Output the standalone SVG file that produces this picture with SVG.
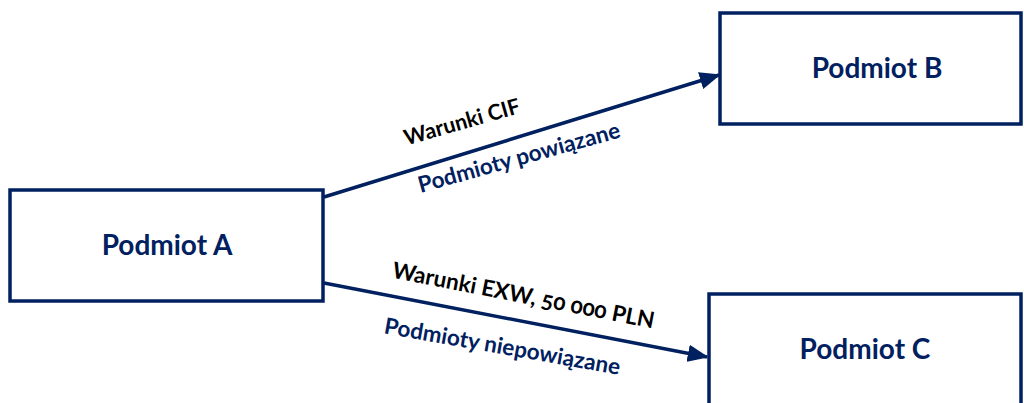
<svg xmlns="http://www.w3.org/2000/svg" width="1024" height="403" viewBox="0 0 1024 403">
<style>
.box{fill:#fff;stroke:#002060;stroke-width:3.5}
.nl{font-family:Lato,"Open Sans",sans-serif;font-weight:700;font-size:28px;fill:#002060;text-anchor:middle}
.el{font-family:Lato,"Open Sans",sans-serif;font-weight:700;font-size:22.5px;text-anchor:middle;font-variant-numeric:oldstyle-nums}
.blk{fill:#000}
.nav{fill:#002060}
.con{stroke:#002060;stroke-width:3.5;fill:none}
</style>
<defs>
<marker id="ah" markerWidth="6" markerHeight="5" refX="5.5" refY="2.5" orient="auto" markerUnits="strokeWidth">
<path d="M0,0 L6,2.5 L0,5 Z" fill="#002060"/>
</marker>
</defs>
<rect width="1024" height="403" fill="#fff"/>
<g id="connectors">
<line class="con" x1="324" y1="197" x2="719" y2="75" marker-end="url(#ah)"/>
<line class="con" x1="324" y1="283" x2="707" y2="357" marker-end="url(#ah)"/>
<text class="el blk" style="font-size:21.5px" transform="translate(464,129) rotate(-16)">Warunki CIF</text>
<text class="el nav" transform="translate(521,165) rotate(-15.5)">Podmioty powiązane</text>
<text class="el blk" transform="translate(522,303) rotate(11)">Warunki EXW, 50 000 PLN</text>
<text class="el nav" transform="translate(501,354) rotate(10)">Podmioty niepowiązane</text>
</g>
<g id="nodeA">
<rect class="box" x="10" y="190" width="313" height="111"/>
<text class="nl" x="167" y="255">Podmiot A</text>
</g>
<g id="nodeB">
<rect class="box" x="720" y="13" width="301" height="111"/>
<text class="nl" x="877" y="78">Podmiot B</text>
</g>
<g id="nodeC">
<rect class="box" x="709" y="294" width="312" height="130"/>
<text class="nl" x="865" y="359">Podmiot C</text>
</g>
</svg>
